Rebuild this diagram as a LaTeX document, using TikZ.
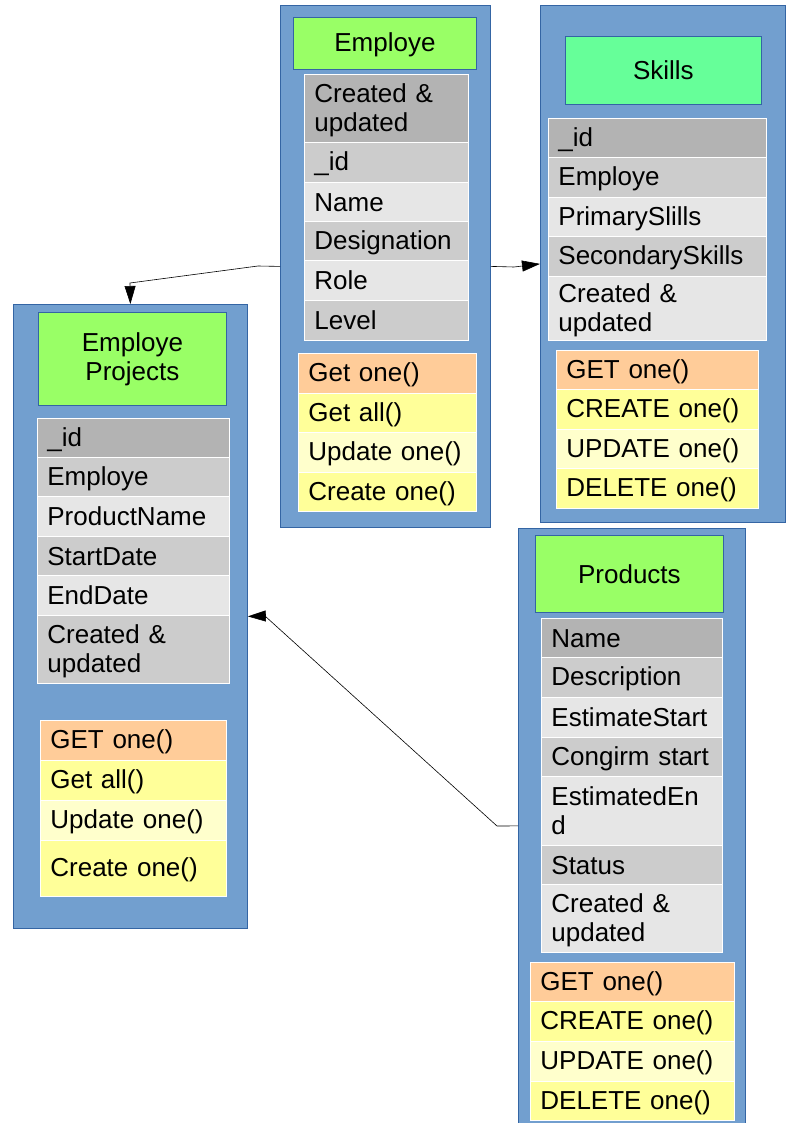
\documentclass[tikz,border=0pt]{standalone}
\usepackage{fontspec}
\setmainfont{Liberation Sans}
\usetikzlibrary{arrows.meta}
\definecolor{boxblue}{HTML}{729FCF}
\definecolor{boxedge}{HTML}{3465A4}
\definecolor{titlegreen}{HTML}{99FF66}
\definecolor{skillgreen}{HTML}{66FF99}
\definecolor{gA}{HTML}{B3B3B3}
\definecolor{gB}{HTML}{CCCCCC}
\definecolor{gC}{HTML}{E6E6E6}
\definecolor{mOrange}{HTML}{FFCC99}
\definecolor{mYellow}{HTML}{FFFF99}
\definecolor{mLight}{HTML}{FFFFCC}
\newcommand\mystrut{\rule[-3.5pt]{0pt}{25.5pt}}
\newcommand\mycell[7]{%
  \node[cellstyle, fill=#1, text width=#4pt, minimum height=#5pt] (#6) at (#2,#3) {#7};}
\tikzset{
  outerbox/.style={draw=boxedge, fill=boxblue, line width=0.8pt, anchor=north west, inner sep=0pt},
  titlebox/.style={draw=boxedge, line width=0.8pt, anchor=north west, inner sep=2pt, align=center,
    execute at begin node=\mystrut, execute at end node=\mystrut},
  cellstyle/.style={draw=white, line width=0.8pt, anchor=north west, inner xsep=10pt, inner ysep=1pt, align=left,
    execute at begin node=\mystrut, execute at end node=\mystrut},
  conn/.style={draw=black, line width=0.6pt, -{Triangle[length=18pt,width=11pt]}},
}
\begin{document}
\begin{tikzpicture}[x=1pt, y=-1pt, font=\fontsize{26}{29}\selectfont]
\useasboundingbox (0,0) rectangle (794,1123);
\clip (0,0) rectangle (794,1123);
\fill[white] (0,0) rectangle (794,1123);

% ---------- Employe ----------
\node[outerbox, minimum width=210pt, minimum height=522pt] (empbox) at (280,5) {};
\node[titlebox, fill=titlegreen, minimum width=183pt, minimum height=52pt] (emptitle) at (293,17) {Employe};
\mycell{gA}{304}{74}{144}{68}{ef1}{Created \&\\updated}
\mycell{gB}{304}{142}{144}{40}{ef2}{\_id}
\mycell{gC}{304}{182}{144}{39}{ef3}{Name}
\mycell{gB}{304}{221}{144}{39}{ef4}{Designation}
\mycell{gC}{304}{260}{144}{40}{ef5}{Role}
\mycell{gB}{304}{300}{144}{40}{ef6}{Level}
\mycell{mOrange}{298}{353}{158}{40}{em1}{Get one()}
\mycell{mYellow}{298}{393}{158}{39}{em2}{Get all()}
\mycell{mLight}{298}{432}{158}{40}{em3}{Update one()}
\mycell{mYellow}{298}{472}{158}{39}{em4}{Create one()}

% ---------- Skills ----------
\node[outerbox, minimum width=245pt, minimum height=517pt] (skbox) at (540,5) {};
\node[titlebox, fill=skillgreen, minimum width=196pt, minimum height=68pt] (sktitle) at (565,36) {Skills};
\mycell{gA}{548}{118}{198}{39}{sf1}{\_id}
\mycell{gB}{548}{157}{198}{40}{sf2}{Employe}
\mycell{gC}{548}{197}{198}{39}{sf3}{PrimarySlills}
\mycell{gB}{548}{236}{198}{40}{sf4}{SecondarySkills}
\mycell{gC}{548}{276}{198}{64}{sf5}{Created \&\\updated}
\mycell{mOrange}{556}{350}{182}{39}{sm1}{GET one()}
\mycell{mYellow}{556}{389}{182}{40}{sm2}{CREATE one()}
\mycell{mLight}{556}{429}{182}{39}{sm3}{UPDATE one()}
\mycell{mYellow}{556}{468}{182}{40}{sm4}{DELETE one()}

% ---------- Employe Projects ----------
\node[outerbox, minimum width=234pt, minimum height=624pt] (epbox) at (13,304) {};
\node[titlebox, fill=titlegreen, minimum width=188pt, minimum height=93pt] (eptitle) at (38,312) {Employe\\Projects};
\mycell{gA}{37}{418}{172}{39}{pf1}{\_id}
\mycell{gB}{37}{457}{172}{39}{pf2}{Employe}
\mycell{gC}{37}{496}{172}{40}{pf3}{ProductName}
\mycell{gB}{37}{536}{172}{39}{pf4}{StartDate}
\mycell{gC}{37}{575}{172}{40}{pf5}{EndDate}
\mycell{gB}{37}{615}{172}{68}{pf6}{Created \&\\updated}
\mycell{mOrange}{40}{720}{166}{40}{pm1}{GET one()}
\mycell{mYellow}{40}{760}{166}{40}{pm2}{Get all()}
\mycell{mLight}{40}{800}{166}{40}{pm3}{Update one()}
\mycell{mYellow}{40}{840}{166}{56}{pm4}{Create one()}

% ---------- Products ----------
\node[outerbox, minimum width=227pt, minimum height=595pt] (prbox) at (518,528) {};
\node[titlebox, fill=titlegreen, minimum width=188pt, minimum height=77pt] (prtitle) at (535,535) {Products};
\mycell{gA}{541}{618}{161}{39}{rf1}{Name}
\mycell{gB}{541}{657}{161}{40}{rf2}{Description}
\mycell{gC}{541}{697}{161}{40}{rf3}{EstimateStart}
\mycell{gB}{541}{737}{161}{39}{rf4}{Congirm start}
\mycell{gC}{541}{776}{161}{69}{rf5}{EstimatedEn\\d}
\mycell{gB}{541}{845}{161}{39}{rf6}{Status}
\mycell{gC}{541}{884}{161}{68}{rf7}{Created \&\\updated}
\mycell{mOrange}{530}{962}{184}{39}{rm1}{GET one()}
\mycell{mYellow}{530}{1001}{184}{40}{rm2}{CREATE one()}
\mycell{mLight}{530}{1041}{184}{40}{rm3}{UPDATE one()}
\mycell{mYellow}{530}{1081}{184}{39}{rm4}{DELETE one()}

% ---------- connectors ----------
\coordinate (k1) at (258,266);
\coordinate (k2) at (130,283);
\coordinate (k3) at (514,267);
\coordinate (k4) at (497,826);
\coordinate (k5) at (265,616);
\draw[conn] (empbox.west) -- (k1) -- (k2) -- (epbox.north);
\draw[conn] (empbox.east) -- (k3) -- (skbox.west);
\draw[conn] (prbox.west) -- (k4) -- (k5) -- (epbox.east);
\end{tikzpicture}
\end{document}
